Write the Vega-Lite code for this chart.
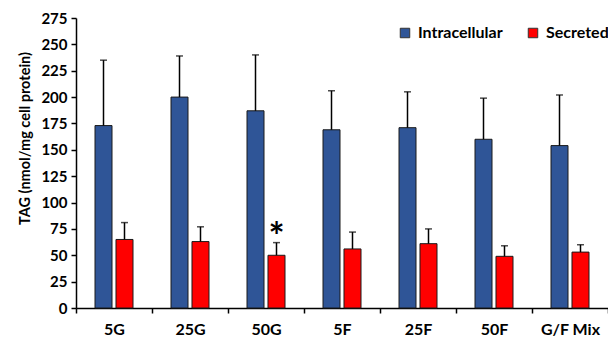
{
  "$schema": "https://vega.github.io/schema/vega-lite/v6.json",
  "width": 532,
  "height": 290,
  "autosize": {"type": "none"},
  "padding": {"left": 76, "top": 18, "right": 0, "bottom": 29},
  "background": "white",
  "config": {
    "view": {"stroke": null},
    "font": "Lato",
    "axis": {"grid": false, "domainColor": "black", "tickColor": "black", "labelColor": "black", "titleColor": "black", "labelFontWeight": "bold", "titleFontWeight": "bold", "domainWidth": 1.5, "tickWidth": 1.5, "labelOverlap": false}
  },
  "data": {
    "values": [
      {"group": "5G", "series": "Intracellular", "value": 173, "err": 235, "sig": ""},
      {"group": "5G", "series": "Secreted", "value": 65, "err": 81, "sig": ""},
      {"group": "25G", "series": "Intracellular", "value": 200, "err": 239, "sig": ""},
      {"group": "25G", "series": "Secreted", "value": 63, "err": 77, "sig": ""},
      {"group": "50G", "series": "Intracellular", "value": 187, "err": 240, "sig": ""},
      {"group": "50G", "series": "Secreted", "value": 50, "err": 62, "sig": "*"},
      {"group": "5F", "series": "Intracellular", "value": 169, "err": 206, "sig": ""},
      {"group": "5F", "series": "Secreted", "value": 56, "err": 72, "sig": ""},
      {"group": "25F", "series": "Intracellular", "value": 171, "err": 205, "sig": ""},
      {"group": "25F", "series": "Secreted", "value": 61, "err": 75, "sig": ""},
      {"group": "50F", "series": "Intracellular", "value": 160, "err": 199, "sig": ""},
      {"group": "50F", "series": "Secreted", "value": 49, "err": 59, "sig": ""},
      {"group": "G/F Mix", "series": "Intracellular", "value": 154, "err": 202, "sig": ""},
      {"group": "G/F Mix", "series": "Secreted", "value": 53, "err": 60, "sig": ""}
    ]
  },
  "encoding": {
    "x": {
      "field": "group", "type": "nominal", "sort": null,
      "scale": {"paddingInner": 0, "paddingOuter": 0},
      "axis": {"title": null, "labelAngle": 0, "tickBand": "extent", "tickSize": 5, "labelFontSize": 16, "labelPadding": 8}
    },
    "xOffset": {
      "field": "series", "type": "nominal",
      "scale": {"domain": ["Intracellular", "Secreted"], "paddingInner": 0.19, "paddingOuter": 0.905}
    },
    "y": {
      "field": "value", "type": "quantitative",
      "scale": {"domain": [0, 275], "nice": false},
      "axis": {"title": "TAG (nmol/mg cell protein)", "titleFontSize": 14.5, "labelFontSize": 15, "values": [0,25,50,75,100,125,150,175,200,225,250,275], "tickSize": 5, "titlePadding": 8, "labelPadding": 4, "titleY": 120}
    }
  },
  "layer": [
    {
      "mark": {"type": "bar", "stroke": "#1a1a1a", "strokeWidth": 1},
      "encoding": {
        "color": {
          "field": "series", "type": "nominal",
          "scale": {"domain": ["Intracellular", "Secreted"], "range": ["#2F5597", "#FF0000"]},
          "legend": {
            "title": null, "orient": "none", "direction": "horizontal",
            "legendX": 321, "legendY": 7,
            "symbolType": "square", "symbolSize": 90, "symbolStrokeColor": "#333333", "symbolStrokeWidth": 1,
            "labelFontSize": 16, "labelFontWeight": "bold", "labelColor": "black", "labelOffset": 5, "columnPadding": 22
          }
        }
      }
    },
    {
      "mark": {"type": "rule", "color": "black", "strokeWidth": 1.5},
      "encoding": {
        "y2": {"field": "err"}
      }
    },
    {
      "mark": {"type": "tick", "color": "black", "thickness": 1.5, "size": 7},
      "encoding": {
        "y": {"field": "err", "type": "quantitative"}
      }
    },
    {
      "mark": {"type": "text", "fontSize": 38, "fontWeight": "bold", "baseline": "middle", "dy": -4, "color": "black"},
      "encoding": {
        "y": {"field": "err", "type": "quantitative"},
        "text": {"field": "sig"}
      }
    }
  ]
}
